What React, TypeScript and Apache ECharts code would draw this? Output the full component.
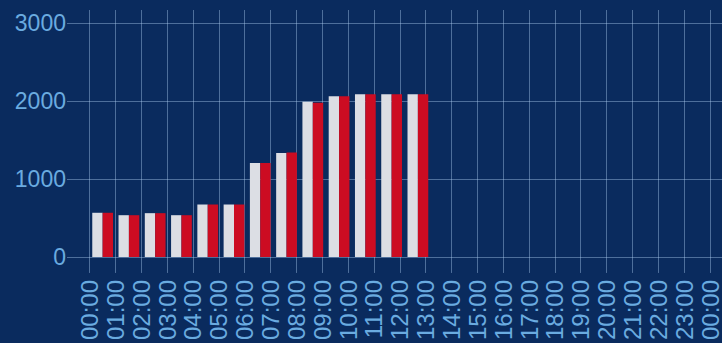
import React, { useEffect, useRef } from "react";
import * as echarts from "echarts";

const hours = [
  "00:00", "01:00", "02:00", "03:00", "04:00", "05:00", "06:00", "07:00",
  "08:00", "09:00", "10:00", "11:00", "12:00", "13:00", "14:00", "15:00",
  "16:00", "17:00", "18:00", "19:00", "20:00", "21:00", "22:00", "23:00",
];
const tickLabels = [...hours, "00:00"];
const grayValues = [567, 536, 562, 536, 673, 673, 1206, 1333, 1990, 2060, 2085, 2085, 2085];
const redValues = [567, 536, 562, 536, 673, 673, 1206, 1340, 1978, 2060, 2085, 2085, 2085];
const yTicks = { min: 0, max: 3000, interval: 1000 };

const BG = "#0a2b5e";
const LABEL = "#6aabe0";
const LINE = "rgba(175,205,240,0.42)";
const FONT = "'Liberation Sans', Arial, Helvetica, sans-serif";

export default function App() {
  const ref = useRef<HTMLDivElement>(null);
  useEffect(() => {
    document.body.style.margin = "0";
    document.body.style.background = BG;
    const chart = echarts.init(ref.current!, undefined, { renderer: "svg" });
    chart.setOption({
      animation: false,
      backgroundColor: BG,
      grid: [
        { left: 67, right: 0, top: 23, bottom: 86 },
        { left: 89.5, right: 2, top: 23, bottom: 86 },
        { left: 89.5, right: 2, top: 10, bottom: 68 },
      ],
      xAxis: [
        { type: "category", gridIndex: 0, data: hours, show: false },
        { type: "category", gridIndex: 1, data: hours, show: false },
        {
          type: "category",
          gridIndex: 2,
          data: tickLabels,
          boundaryGap: false,
          axisLine: { show: false },
          axisTick: { show: false },
          splitLine: { show: true, lineStyle: { color: LINE, width: 1 } },
          axisLabel: {
            rotate: 90,
            interval: 0,
            margin: 7,
            color: LABEL,
            fontSize: 24,
            fontFamily: FONT,
            padding: [0, 0, 6, 0],
          },
        },
      ],
      yAxis: [
        {
          type: "value",
          gridIndex: 0,
          ...yTicks,
          axisLine: { show: false },
          axisTick: { show: false },
          splitLine: { show: true, lineStyle: { color: LINE, width: 1 } },
          axisLabel: {
            margin: 1,
            color: LABEL,
            fontSize: 23,
            fontFamily: FONT,
            formatter: (v: number) => String(v),
          },
        },
        { type: "value", gridIndex: 1, ...yTicks, show: false, splitLine: { show: false } },
        { type: "value", gridIndex: 2, show: false, splitLine: { show: false } },
      ],
      series: [
        {
          type: "bar",
          xAxisIndex: 1,
          yAxisIndex: 1,
          data: grayValues,
          barGap: "0%",
          barCategoryGap: "21%",
          itemStyle: { color: "#dcdee4" },
        },
        {
          type: "bar",
          xAxisIndex: 1,
          yAxisIndex: 1,
          data: redValues,
          barGap: "0%",
          barCategoryGap: "21%",
          itemStyle: { color: "#cc0c22" },
        },
      ],
    });
    return () => chart.dispose();
  }, []);
  return (
    <div
      ref={ref}
      style={{ position: "fixed", left: 0, top: 0, width: 722, height: 343 }}
    />
  );
}
